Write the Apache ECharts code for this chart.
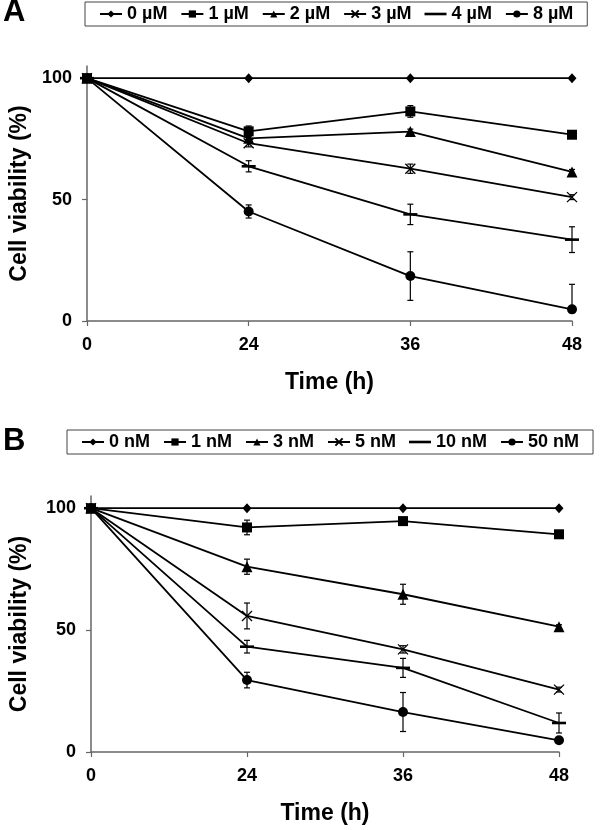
<!DOCTYPE html>
<html>
<head>
<meta charset="utf-8">
<script src="https://cdn.jsdelivr.net/npm/echarts@6/dist/echarts.min.js"></script>
<style>html,body{margin:0;padding:0;background:#fff;}#c{width:600px;height:830px;}</style>
</head>
<body>
<div id="c"></div>
<script>
// ---- data ----
const times = ['0', '24', '36', '48'];
const yTickValues = [0, 50, 100];

const namesA = ['0 µM', '1 µM', '2 µM', '3 µM', '4 µM', '8 µM'];
const a0 = [100, 100, 100, 100];
const a1 = [100, 78.1, 86.3, 76.7];
const a2 = [100, 75.2, 78.0, 61.4];
const a3 = [100, 73.2, 62.7, 51.0];
const a4 = [100, 63.7, 43.9, 33.5];
const a8 = [100, 45.1, 18.5, 4.8];
const a0Err = [0, 0, 0, 0];
const a1Err = [0, 2.2, 2.4, 1.0];
const a2Err = [0, 1.0, 1.0, 1.0];
const a3Err = [0, 1.5, 1.9, 1.0];
const a4Err = [0, 2.3, 4.2, 5.3];
const a8Err = [0, 2.7, 10.0, 10.3];

const namesB = ['0 nM', '1 nM', '3 nM', '5 nM', '10 nM', '50 nM'];
const b0 = [100, 100, 100, 100];
const b1 = [100, 92.1, 94.7, 89.3];
const b3 = [100, 76.0, 64.7, 51.4];
const b5 = [100, 55.8, 42.1, 25.6];
const b10 = [100, 43.2, 34.5, 11.9];
const b50 = [100, 29.5, 16.4, 4.8];
const b0Err = [0, 0, 0, 0];
const b1Err = [0, 3.0, 1.0, 1.0];
const b3Err = [0, 3.1, 4.1, 0.8];
const b5Err = [0, 5.3, 1.5, 1.0];
const b10Err = [0, 2.6, 3.9, 4.1];
const b50Err = [0, 3.2, 8.0, 1.0];

// ---- styles ----
const FONT = 'Liberation Sans, Arial, sans-serif';
const symX = 'path://M0,0L10,10M10,0L0,10';
const symDash = 'path://M0,0L12,0L12,2.4L0,2.4Z';
const legendDash = 'path://M0,0L22,0L22,2.6L0,2.6Z';
const markerDefs = [
  { symbol: 'diamond', size: [9, 10] },
  { symbol: 'rect', size: 10 },
  { symbol: 'triangle', size: 11 },
  { symbol: symX, size: 10, outline: true },
  { symbol: symDash, size: [14, 2.6], legendIcon: legendDash },
  { symbol: 'circle', size: 10 }
];

function lineSeries(name, values, idx, axisIdx) {
  const m = markerDefs[idx];
  return {
    name: name, type: 'line', xAxisIndex: axisIdx, yAxisIndex: axisIdx,
    data: values, symbol: m.symbol, symbolSize: m.size, showSymbol: true,
    lineStyle: { color: '#000', width: 1.8 },
    itemStyle: m.outline ? { color: 'none', borderColor: '#000', borderWidth: 1.3 } : { color: '#000', borderWidth: 0 },
    emphasis: { disabled: true }, animation: false, z: 3, clip: false
  };
}

function errSeries(valueSets, errSets, axisIdx) {
  const data = [];
  valueSets.forEach((vals, s) => {
    vals.forEach((v, i) => { if (errSets[s][i] > 0) data.push([i, v, errSets[s][i]]); });
  });
  return {
    type: 'custom', xAxisIndex: axisIdx, yAxisIndex: axisIdx, silent: true, animation: false, z: 2, clip: false,
    encode: { x: 0, y: 1 },
    data: data,
    renderItem: function (params, api) {
      const x = api.value(0), v = api.value(1), e = api.value(2);
      const lo = (v - e) < 0 ? v : v - e;
      const top = api.coord([x, v + e]);
      const bot = api.coord([x, lo]);
      const w = 3;
      const st = { stroke: '#000', lineWidth: 1.2 };
      const children = [
        { type: 'line', shape: { x1: top[0], y1: top[1], x2: bot[0], y2: bot[1] }, style: st },
        { type: 'line', shape: { x1: top[0] - w, y1: top[1], x2: top[0] + w, y2: top[1] }, style: st }
      ];
      if (lo !== v) children.push({ type: 'line', shape: { x1: bot[0] - w, y1: bot[1], x2: bot[0] + w, y2: bot[1] }, style: st });
      return { type: 'group', children: children };
    }
  };
}

function xAxisCfg(gi) {
  return {
    type: 'category', gridIndex: gi, data: times, boundaryGap: false,
    axisLine: { show: true, lineStyle: { color: '#666', width: 1.5 } },
    axisTick: { show: true, length: 5, inside: false, lineStyle: { color: '#666', width: 1.2 } },
    axisLabel: { color: '#000', fontSize: 18, fontWeight: 'bold', fontFamily: FONT, margin: 15 },
    splitLine: { show: false },
    name: 'Time (h)', nameLocation: 'middle', nameGap: 50,
    nameTextStyle: { color: '#000', fontSize: 23, fontWeight: 'bold', fontFamily: FONT }
  };
}
function yAxisCfg(gi, gap) {
  return {
    type: 'value', gridIndex: gi, min: 0, max: 105, interval: 50,
    axisLine: { show: true, lineStyle: { color: '#666', width: 1.5 } },
    axisTick: { show: true, length: 5, customValues: yTickValues, lineStyle: { color: '#666', width: 1.2 } },
    axisLabel: { color: '#000', fontSize: 18, fontWeight: 'bold', fontFamily: FONT, margin: 15, customValues: yTickValues,
      formatter: function (v) { return v > 100 ? '' : String(v); } },
    splitLine: { show: false },
    name: 'Cell viability (%)', nameLocation: 'middle', nameGap: gap, nameRotate: 90,
    nameTextStyle: { color: '#000', fontSize: 23, fontWeight: 'bold', fontFamily: FONT }
  };
}
function legendCfg(names, left, top) {
  return {
    data: names.map((n, i) => markerDefs[i].legendIcon ? { name: n, icon: markerDefs[i].legendIcon } : { name: n }),
    left: left, top: top, orient: 'horizontal',
    itemWidth: 22, itemHeight: 9, itemGap: 13,
    padding: [3, 14, 3, 14],
    borderColor: '#444', borderWidth: 1, backgroundColor: '#fff',
    textStyle: { color: '#000', fontSize: 18, fontWeight: 'bold', fontFamily: FONT },
    selectedMode: false
  };
}

const setsA = [a0, a1, a2, a3, a4, a8];
const errA = [a0Err, a1Err, a2Err, a3Err, a4Err, a8Err];
const setsB = [b0, b1, b3, b5, b10, b50];
const errB = [b0Err, b1Err, b3Err, b5Err, b10Err, b50Err];

const series = [];
series.push(errSeries(setsA, errA, 0));
series.push(errSeries(setsB, errB, 1));
setsA.forEach((s, i) => series.push(lineSeries(namesA[i], s, i, 0)));
setsB.forEach((s, i) => series.push(lineSeries(namesB[i], s, i, 1)));

const option = {
  backgroundColor: '#fff',
  animation: false,
  title: [
    { text: 'A', left: 3, top: -3, padding: 0, textStyle: { color: '#000', fontSize: 31, fontWeight: 'bold', fontFamily: FONT } },
    { text: 'B', left: 3, top: 426, padding: 0, textStyle: { color: '#000', fontSize: 31, fontWeight: 'bold', fontFamily: FONT } }
  ],
  legend: [legendCfg(namesA, 85, 2), legendCfg(namesB, 67, 430)],
  grid: [
    { left: 86, top: 66, width: 486, height: 255, containLabel: false },
    { left: 83, top: 496, width: 476, height: 256, containLabel: false }
  ],
  xAxis: [xAxisCfg(0), xAxisCfg(1)],
  yAxis: [yAxisCfg(0, 56), yAxisCfg(1, 60)],
  series: series
};

const chart = echarts.init(document.getElementById('c'), null, { renderer: 'canvas' });
chart.setOption(option);
</script>
</body>
</html>
